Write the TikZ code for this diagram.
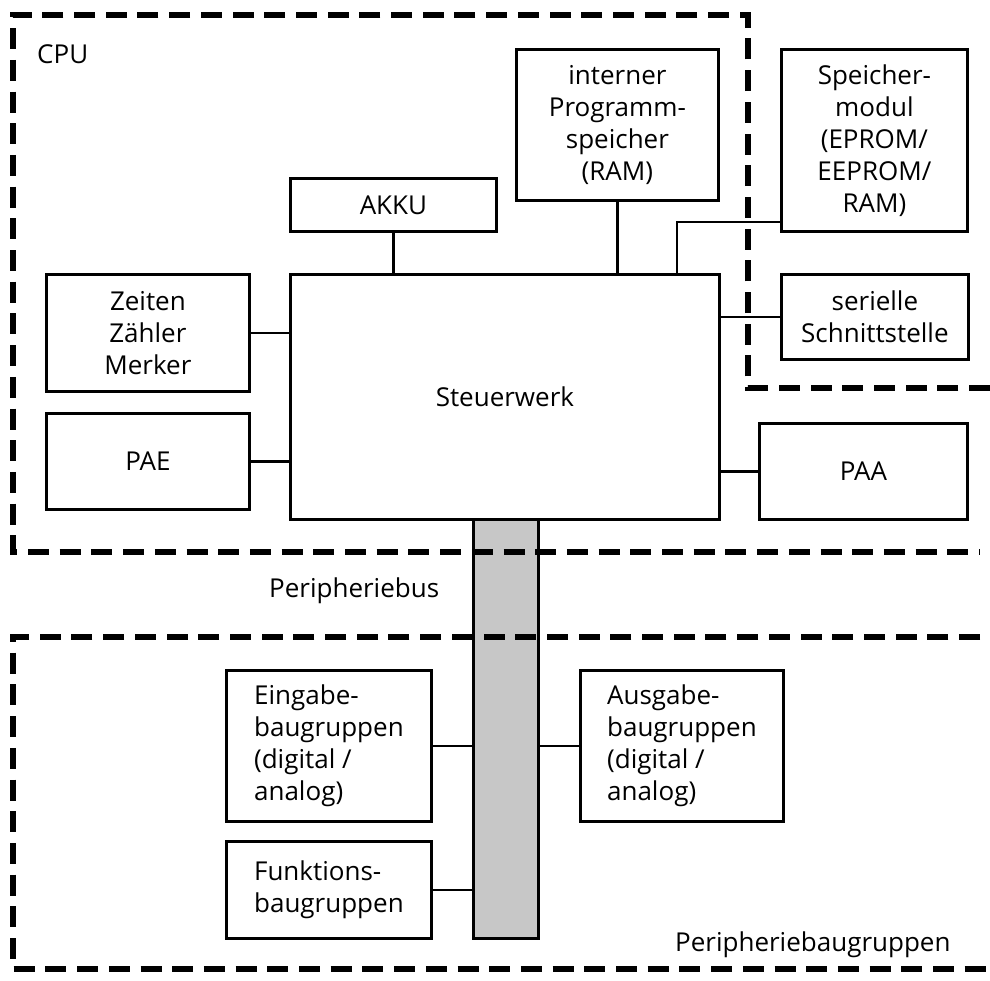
\documentclass[tikz,border=0pt]{standalone}
\usepackage{fontspec}
\setmainfont{Open Sans}
\begin{document}
\begin{tikzpicture}[x=1pt,y=-1pt,
  font=\fontsize{26}{32}\selectfont,
  box/.style={draw, line width=2.8pt, align=center, inner sep=0pt, anchor=north west},
  lbox/.style={box, align=left},
  busbar/.style={draw, line width=2.8pt, fill=black!22, inner sep=0pt, anchor=north west},
  wire/.style={line width=2.6pt},
  frame/.style={line width=5.2pt, dash pattern=on 21pt off 10.7pt},
  lbl/.style={anchor=base west, inner sep=0pt}]
\useasboundingbox (0,0) rectangle (990,980);

% CPU blocks
\node[box, minimum width=429pt, minimum height=245pt] (steuer) at (289,273) {Steuerwerk};
\node[box, minimum width=206pt, minimum height=53pt]  (akku)   at (289,177) {AKKU};
\node[box, minimum width=202pt, minimum height=151pt] (prog)   at (515,48)  {interner\\Programm-\\speicher\\(RAM)};
\node[box, minimum width=186pt, minimum height=182pt] (modul)  at (780,48)  {Speicher-\\modul\\(EPROM/\\EEPROM/\\RAM)};
\node[box, minimum width=187pt, minimum height=85pt]  (seriell) at (780,273) {serielle\\Schnittstelle};
\node[box, minimum width=203pt, minimum height=117pt] (zeiten) at (45,273)  {Zeiten\\Zähler\\Merker};
\node[box, minimum width=203pt, minimum height=96pt]  (pae)    at (45,412)  {PAE};
\node[box, minimum width=208pt, minimum height=96pt]  (paa)    at (758,422) {PAA};

% peripheral bus
\node[busbar, minimum width=65pt, minimum height=419pt] (bus) at (472,518) {};

% peripheral modules
\node[lbox, minimum width=205pt, minimum height=151pt] (ein)  at (225,669) {Eingabe-\\baugruppen\\(digital /\\analog)};
\node[lbox, minimum width=203pt, minimum height=151pt] (aus)  at (579,669) {Ausgabe-\\baugruppen\\(digital /\\analog)};
\node[lbox, minimum width=205pt, minimum height=97pt]  (funk) at (225,840) {Funktions-\\baugruppen};

% connections
\draw[wire] (akku.south) -- (akku.south |- steuer.north);
\draw[wire] (prog.south) -- (prog.south |- steuer.north);
\draw[wire] ([yshift=11pt]modul.south west) -| ([xshift=-44pt]steuer.north east);
\draw[wire] (seriell.west) -- (seriell.west -| steuer.east);
\draw[wire] (zeiten.east) -- (zeiten.east -| steuer.west);
\draw[wire] (pae.east) -- (pae.east -| steuer.west);
\draw[wire] (paa.west) -- (paa.west -| steuer.east);
\draw[wire] (ein.east) -- (ein.east -| bus.west);
\draw[wire] (aus.west) -- (aus.west -| bus.east);
\draw[wire] (funk.east) -- (funk.east -| bus.west);

% dashed boundaries
\coordinate (cpuA) at (990,388);
\coordinate (cpuB) at (748,388);
\coordinate (cpuC) at (748,15);
\coordinate (cpuD) at (13,15);
\coordinate (cpuE) at (13,552);
\coordinate (cpuF) at (980,552);
\draw[frame] (cpuA) -- (cpuB) -- (cpuC) -- (cpuD) -- (cpuE) -- (cpuF);
\coordinate (perA) at (980,637);
\coordinate (perB) at (13,637);
\coordinate (perC) at (13,969);
\coordinate (perD) at (990,969);
\draw[frame] (perA) -- (perB) -- (perC) -- (perD);

% labels
\node[lbl] (cpu) at (37,63) {CPU};
\node[lbl] (pbus) at (269,597) {Peripheriebus};
\node[lbl] (pbg) at (675,951) {Peripheriebaugruppen};
\end{tikzpicture}
\end{document}
